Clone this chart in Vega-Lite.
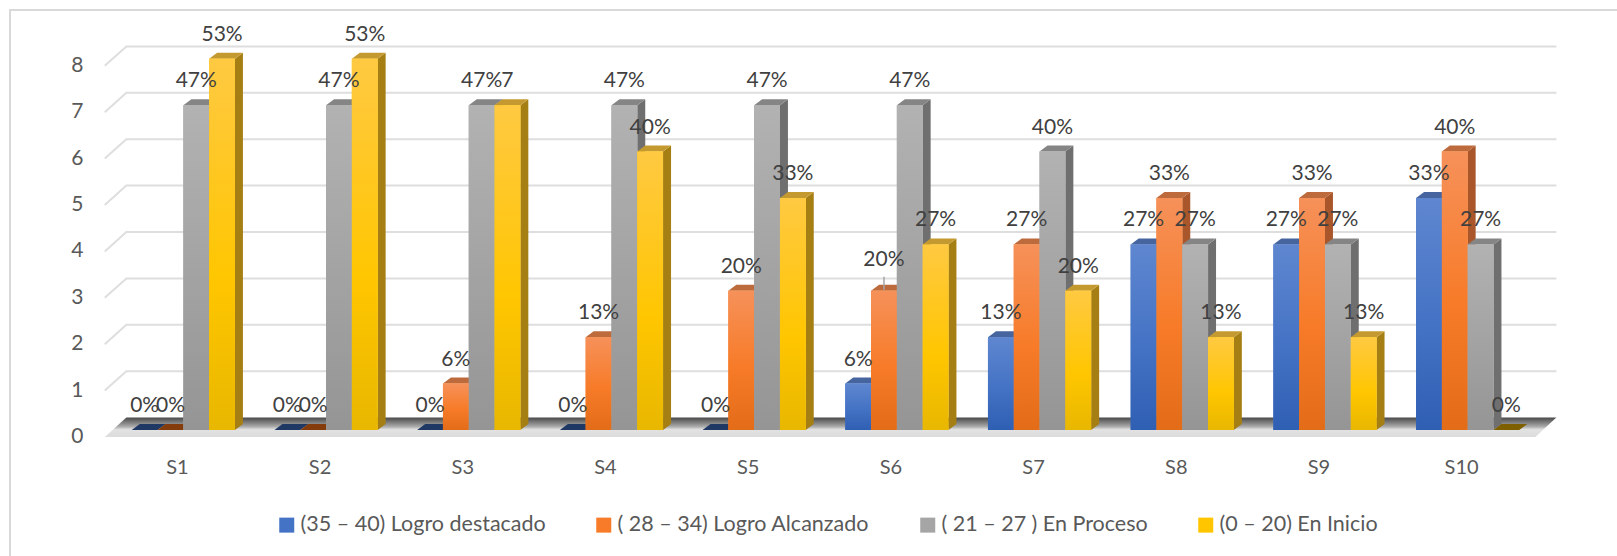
{
"$schema":"https://vega.github.io/schema/vega-lite/v6.json",
"autosize":{"type":"none"},
"padding":{"left":10,"top":10,"right":0,"bottom":0},
"width":1620,
"height":560,
"background":"white",
"view":{"stroke":"#d9d9d9","strokeWidth":2,"fill":"white"},
"config":{"font":"Lato"},
"datasets":{
"bars":[
{"S":"S1","serie":"(35 – 40) Logro destacado","v":0,"label":"0%"},
{"S":"S2","serie":"(35 – 40) Logro destacado","v":0,"label":"0%"},
{"S":"S3","serie":"(35 – 40) Logro destacado","v":0,"label":"0%"},
{"S":"S4","serie":"(35 – 40) Logro destacado","v":0,"label":"0%"},
{"S":"S5","serie":"(35 – 40) Logro destacado","v":0,"label":"0%"},
{"S":"S6","serie":"(35 – 40) Logro destacado","v":1,"label":"6%"},
{"S":"S7","serie":"(35 – 40) Logro destacado","v":2,"label":"13%"},
{"S":"S8","serie":"(35 – 40) Logro destacado","v":4,"label":"27%"},
{"S":"S9","serie":"(35 – 40) Logro destacado","v":4,"label":"27%"},
{"S":"S10","serie":"(35 – 40) Logro destacado","v":5,"label":"33%"},
{"S":"S1","serie":"( 28 – 34) Logro Alcanzado","v":0,"label":"0%"},
{"S":"S2","serie":"( 28 – 34) Logro Alcanzado","v":0,"label":"0%"},
{"S":"S3","serie":"( 28 – 34) Logro Alcanzado","v":1,"label":"6%"},
{"S":"S4","serie":"( 28 – 34) Logro Alcanzado","v":2,"label":"13%"},
{"S":"S5","serie":"( 28 – 34) Logro Alcanzado","v":3,"label":"20%"},
{"S":"S6","serie":"( 28 – 34) Logro Alcanzado","v":3,"label":"20%"},
{"S":"S7","serie":"( 28 – 34) Logro Alcanzado","v":4,"label":"27%"},
{"S":"S8","serie":"( 28 – 34) Logro Alcanzado","v":5,"label":"33%"},
{"S":"S9","serie":"( 28 – 34) Logro Alcanzado","v":5,"label":"33%"},
{"S":"S10","serie":"( 28 – 34) Logro Alcanzado","v":6,"label":"40%"},
{"S":"S1","serie":"( 21 – 27 ) En Proceso","v":7,"label":"47%"},
{"S":"S2","serie":"( 21 – 27 ) En Proceso","v":7,"label":"47%"},
{"S":"S3","serie":"( 21 – 27 ) En Proceso","v":7,"label":"47%"},
{"S":"S4","serie":"( 21 – 27 ) En Proceso","v":7,"label":"47%"},
{"S":"S5","serie":"( 21 – 27 ) En Proceso","v":7,"label":"47%"},
{"S":"S6","serie":"( 21 – 27 ) En Proceso","v":7,"label":"47%"},
{"S":"S7","serie":"( 21 – 27 ) En Proceso","v":6,"label":"40%"},
{"S":"S8","serie":"( 21 – 27 ) En Proceso","v":4,"label":"27%"},
{"S":"S9","serie":"( 21 – 27 ) En Proceso","v":4,"label":"27%"},
{"S":"S10","serie":"( 21 – 27 ) En Proceso","v":4,"label":"27%"},
{"S":"S1","serie":"(0 – 20) En Inicio","v":8,"label":"53%"},
{"S":"S2","serie":"(0 – 20) En Inicio","v":8,"label":"53%"},
{"S":"S3","serie":"(0 – 20) En Inicio","v":7,"label":"7"},
{"S":"S4","serie":"(0 – 20) En Inicio","v":6,"label":"40%"},
{"S":"S5","serie":"(0 – 20) En Inicio","v":5,"label":"33%"},
{"S":"S6","serie":"(0 – 20) En Inicio","v":4,"label":"27%"},
{"S":"S7","serie":"(0 – 20) En Inicio","v":3,"label":"20%"},
{"S":"S8","serie":"(0 – 20) En Inicio","v":2,"label":"13%"},
{"S":"S9","serie":"(0 – 20) En Inicio","v":2,"label":"13%"},
{"S":"S10","serie":"(0 – 20) En Inicio","v":0,"label":"0%"}
],
"grid":[{"g":0},{"g":1},{"g":2},{"g":3},{"g":4},{"g":5},{"g":6},{"g":7},{"g":8}]
},
"data":{"name":"bars"},
"encoding":{
 "x":{"field":"S","type":"nominal","title":null,"scale":{"domain":["S1","S2","S3","S4","S5","S6","S7","S8","S9","S10"],"range":[102,1529],"paddingInner":0.277,"paddingOuter":0.1385},
   "axis":{"orient":"bottom","offset":-113,"domain":false,"ticks":false,"labelAngle":0,"labelFontSize":20,"labelColor":"#595959","labelOffset":-6,"labelPadding":0,"grid":false}},
 "xOffset":{"field":"serie","sort":null},
 "y":{"field":"v","type":"quantitative","title":null,"scale":{"domain":[-3.017,9.052],"nice":false,"zero":false},
   "axis":{"values":[0,1,2,3,4,5,6,7,8],"format":"d","offset":-79,"domain":false,"ticks":false,"grid":false,"labelFontSize":21,"labelColor":"#595959","labelPadding":6,"labelOffset":6.5}}
},
"layer":[
{"data":{"name":"grid"},
 "transform":[{"filter":"datum.g==0"}],
 "mark":{"type":"point","shape":"M-27,7 L-5.4,-12.4 L1424.6,-12.4 L1403.6,7 Z","size":4,"filled":true,"opacity":1,"fill":{"gradient":"linear","x1":0,"y1":0,"x2":0,"y2":1,"stops":[{"offset":0,"color":"#4a4a4a"},{"offset":0.45,"color":"#a8a8a8"},{"offset":0.62,"color":"#e2e2e2"},{"offset":1,"color":"#dcdcdc"}]}},
 "encoding":{"x":{"datum":"S1"},"xOffset":{"value":0},"y":{"field":"g","type":"quantitative"}}},
{"data":{"name":"grid"},
 "transform":[{"filter":"datum.g>0"}],
 "mark":{"type":"point","shape":"M-27,7 L-5.4,-12.4 L1424.6,-12.4","size":4,"filled":false,"opacity":1,"stroke":"#dedede","strokeWidth":2},
 "encoding":{"x":{"datum":"S1"},"xOffset":{"value":0},"y":{"field":"g","type":"quantitative"}}},
{"mark":{"type":"point","size":4,"filled":true,"opacity":1},
 "encoding":{"color":{"field":"serie","sort":null,"legend":null,"scale":{"range":["#2f5290","#a8562a","#6f6f6f","#a67f14"]}},
 "shape":{"field":"v","type":"ordinal","legend":null,"scale":{"domain":[0,1,2,3,4,5,6,7,8],"range":[
 "M12.9,0 L20.9,-6 L20.9,-6 L12.9,0 Z",
 "M12.9,0 L20.9,-6 L20.9,40.4 L12.9,46.4 Z",
 "M12.9,0 L20.9,-6 L20.9,86.8 L12.9,92.8 Z",
 "M12.9,0 L20.9,-6 L20.9,133.2 L12.9,139.2 Z",
 "M12.9,0 L20.9,-6 L20.9,179.6 L12.9,185.6 Z",
 "M12.9,0 L20.9,-6 L20.9,226 L12.9,232 Z",
 "M12.9,0 L20.9,-6 L20.9,272.4 L12.9,278.4 Z",
 "M12.9,0 L20.9,-6 L20.9,318.8 L12.9,324.8 Z",
 "M12.9,0 L20.9,-6 L20.9,365.2 L12.9,371.2 Z"]}}}},
{"transform":[{"filter":"datum.v>0"}],
 "mark":{"type":"point","shape":"M-12.9,0 L12.9,0 L20.9,-6 L-4.9,-6 Z","size":4,"filled":true,"opacity":1},
 "encoding":{"color":{"field":"serie","sort":null,"legend":null,"scale":{"range":["#46659f","#bd6a3c","#858585","#c49a30"]}}}},
{"transform":[{"filter":"datum.v==0"}],
 "mark":{"type":"point","shape":"M-12.9,0 L12.9,0 L20.9,-6 L-4.9,-6 Z","size":4,"filled":true,"opacity":1},
 "encoding":{"color":{"field":"serie","sort":null,"legend":null,"scale":{"range":["#203864","#843c0c","#7f6000"]}}}},
{"mark":{"type":"bar"},
 "encoding":{"color":{"field":"serie","sort":null,"scale":{"range":["#4472c4","#f77b28","#a5a5a5","#ffc600"]},
 "legend":{"title":null,"orient":"none","legendX":266,"legendY":504,"direction":"horizontal","columns":4,"symbolType":"square","symbolSize":225,"labelFontSize":21.5,"labelColor":"#595959","labelLimit":400,"columnPadding":47,"labelOffset":3,"symbolStrokeWidth":0,
 "encode":{"symbols":{"update":{"fill":[
 {"test":"indexof(datum.label,'35')>=0","value":{"gradient":"linear","x1":0,"y1":0,"x2":0,"y2":1,"stops":[{"offset":0,"color":"#5f87d0"},{"offset":1,"color":"#2f5fb3"}]}},
 {"test":"indexof(datum.label,'28')>=0","value":{"gradient":"linear","x1":0,"y1":0,"x2":0,"y2":1,"stops":[{"offset":0,"color":"#f6915a"},{"offset":1,"color":"#e36c18"}]}},
 {"test":"indexof(datum.label,'21')>=0","value":{"gradient":"linear","x1":0,"y1":0,"x2":0,"y2":1,"stops":[{"offset":0,"color":"#b2b2b2"},{"offset":1,"color":"#959595"}]}},
 {"value":{"gradient":"linear","x1":0,"y1":0,"x2":0,"y2":1,"stops":[{"offset":0,"color":"#ffc942"},{"offset":1,"color":"#e8b700"}]}}
 ]}}}}}}},
{"transform":[{"filter":"datum.serie=='(35 – 40) Logro destacado'"}],
 "mark":{"type":"bar","fill":{"gradient":"linear","x1":0,"y1":0,"x2":0,"y2":1,"stops":[{"offset":0,"color":"#5f87d0"},{"offset":0.55,"color":"#4472c4"},{"offset":1,"color":"#2f5fb3"}]}}},
{"transform":[{"filter":"datum.serie=='( 28 – 34) Logro Alcanzado'"}],
 "mark":{"type":"bar","fill":{"gradient":"linear","x1":0,"y1":0,"x2":0,"y2":1,"stops":[{"offset":0,"color":"#f6915a"},{"offset":0.55,"color":"#f77b28"},{"offset":1,"color":"#e36c18"}]}}},
{"transform":[{"filter":"datum.serie=='( 21 – 27 ) En Proceso'"}],
 "mark":{"type":"bar","fill":{"gradient":"linear","x1":0,"y1":0,"x2":0,"y2":1,"stops":[{"offset":0,"color":"#b2b2b2"},{"offset":1,"color":"#959595"}]}}},
{"transform":[{"filter":"datum.serie=='(0 – 20) En Inicio'"}],
 "mark":{"type":"bar","fill":{"gradient":"linear","x1":0,"y1":0,"x2":0,"y2":1,"stops":[{"offset":0,"color":"#ffc942"},{"offset":0.6,"color":"#ffc600"},{"offset":1,"color":"#e8b700"}]}}},
{"transform":[{"filter":"datum.S=='S6' && datum.v==3"}],
 "mark":{"type":"point","shape":"M0,-1 L0,-14","size":4,"filled":false,"opacity":1,"stroke":"#a6a6a6","strokeWidth":1.5}},
{"transform":[{"filter":"!(datum.S=='S6' && datum.v==3)"}],
 "mark":{"type":"text","fontSize":21,"color":"#404040","dy":-24,"baseline":"middle"},
 "encoding":{"text":{"field":"label"}}},
{"transform":[{"filter":"datum.S=='S6' && datum.v==3"}],
 "mark":{"type":"text","fontSize":21,"color":"#404040","dy":-31,"baseline":"middle"},
 "encoding":{"text":{"field":"label"}}}
],
"resolve":{"scale":{"color":"independent"}}
}
